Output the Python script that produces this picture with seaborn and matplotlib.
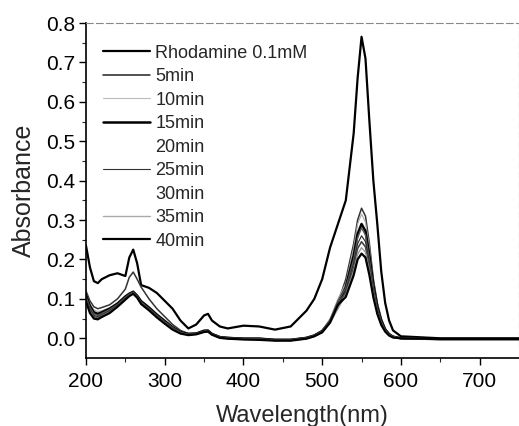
import numpy as np
import pandas as pd
import matplotlib
matplotlib.use("Agg")
import matplotlib.pyplot as plt
import seaborn as sns
from matplotlib.lines import Line2D

wavelength = [200, 205, 210, 215, 220, 230, 240, 250, 255, 260, 265, 270, 280, 290, 300,
              310, 320, 330, 340, 350, 355, 360, 370, 380, 400, 420, 440, 460, 480, 490, 500,
              510, 520, 530, 540, 545, 550, 555, 560, 565, 570, 575, 580, 585, 590, 600,
              650, 700, 750]

rhodamine = [0.235, 0.18, 0.145, 0.14, 0.15, 0.16, 0.165, 0.158, 0.205, 0.225, 0.19, 0.135, 0.128, 0.115, 0.095,
             0.075, 0.045, 0.025, 0.035, 0.058, 0.062, 0.045, 0.03, 0.025, 0.032, 0.03, 0.022, 0.03, 0.07, 0.1, 0.15,
             0.23, 0.29, 0.35, 0.52, 0.66, 0.765, 0.71, 0.55, 0.40, 0.29, 0.17, 0.09, 0.045, 0.02, 0.005,
             0.0, 0.0, 0.0]
min5 = [0.12, 0.095, 0.08, 0.075, 0.078, 0.085, 0.10, 0.125, 0.155, 0.168, 0.15, 0.13, 0.10, 0.075, 0.055,
        0.035, 0.02, 0.012, 0.013, 0.02, 0.021, 0.012, 0.004, 0.002, 0.0, 0.0, -0.003, -0.003, 0.002, 0.008, 0.02,
        0.045, 0.09, 0.15, 0.24, 0.30, 0.33, 0.31, 0.24, 0.15, 0.09, 0.05, 0.025, 0.012, 0.005, 0.0,
        -0.002, -0.002, -0.002]
min10 = [0.115, 0.088, 0.072, 0.068, 0.07, 0.078, 0.09, 0.108, 0.115, 0.12, 0.11, 0.096, 0.08, 0.062, 0.045,
         0.03, 0.018, 0.012, 0.013, 0.02, 0.02, 0.012, 0.004, 0.002, 0.0, 0.0, -0.003, -0.003, 0.002, 0.008, 0.02,
         0.05, 0.10, 0.14, 0.23, 0.29, 0.315, 0.295, 0.23, 0.145, 0.085, 0.048, 0.024, 0.011, 0.004, 0.0,
         -0.002, -0.002, -0.002]
min15 = [0.11, 0.082, 0.066, 0.062, 0.066, 0.075, 0.088, 0.106, 0.113, 0.118, 0.108, 0.094, 0.078, 0.06, 0.044,
         0.028, 0.016, 0.011, 0.012, 0.019, 0.019, 0.011, 0.003, 0.001, -0.001, -0.001, -0.004, -0.004, 0.001, 0.007, 0.018,
         0.043, 0.085, 0.13, 0.21, 0.265, 0.29, 0.272, 0.21, 0.135, 0.08, 0.045, 0.022, 0.01, 0.004, 0.0,
         -0.002, -0.002, -0.002]
min20 = [0.105, 0.078, 0.062, 0.058, 0.063, 0.073, 0.086, 0.104, 0.112, 0.117, 0.107, 0.092, 0.076, 0.058, 0.042,
         0.027, 0.015, 0.01, 0.012, 0.018, 0.019, 0.011, 0.003, 0.001, -0.001, -0.002, -0.004, -0.004, 0.001, 0.007, 0.018,
         0.046, 0.095, 0.128, 0.20, 0.255, 0.28, 0.262, 0.2, 0.13, 0.077, 0.043, 0.021, 0.01, 0.004, 0.0,
         -0.002, -0.002, -0.002]
min25 = [0.1, 0.074, 0.058, 0.055, 0.06, 0.07, 0.084, 0.102, 0.11, 0.116, 0.106, 0.09, 0.074, 0.056, 0.04,
         0.025, 0.014, 0.01, 0.011, 0.018, 0.018, 0.01, 0.002, 0.0, -0.002, -0.002, -0.005, -0.005, 0.0, 0.006, 0.016,
         0.04, 0.08, 0.12, 0.19, 0.24, 0.26, 0.245, 0.19, 0.122, 0.072, 0.04, 0.02, 0.009, 0.003, 0.0,
         -0.002, -0.002, -0.002]
min30 = [0.098, 0.07, 0.055, 0.052, 0.058, 0.068, 0.082, 0.1, 0.109, 0.115, 0.105, 0.089, 0.073, 0.055, 0.039,
         0.024, 0.013, 0.009, 0.011, 0.017, 0.018, 0.01, 0.002, 0.0, -0.002, -0.003, -0.005, -0.005, 0.0, 0.006, 0.016,
         0.043, 0.09, 0.115, 0.18, 0.228, 0.245, 0.232, 0.18, 0.116, 0.068, 0.038, 0.019, 0.008, 0.003, 0.0,
         -0.002, -0.002, -0.002]
min35 = [0.096, 0.067, 0.052, 0.05, 0.056, 0.066, 0.081, 0.099, 0.108, 0.114, 0.104, 0.088, 0.072, 0.054, 0.038,
         0.023, 0.013, 0.009, 0.01, 0.017, 0.017, 0.009, 0.001, -0.001, -0.003, -0.003, -0.006, -0.006, -0.001, 0.005, 0.015,
         0.038, 0.075, 0.11, 0.17, 0.213, 0.23, 0.218, 0.17, 0.11, 0.065, 0.036, 0.018, 0.008, 0.003, 0.0,
         -0.002, -0.002, -0.002]
min40 = [0.094, 0.064, 0.05, 0.048, 0.054, 0.064, 0.08, 0.098, 0.107, 0.113, 0.103, 0.087, 0.071, 0.053, 0.037,
         0.022, 0.012, 0.008, 0.01, 0.016, 0.017, 0.009, 0.001, -0.001, -0.003, -0.004, -0.006, -0.006, -0.001, 0.005, 0.015,
         0.04, 0.085, 0.105, 0.16, 0.2, 0.215, 0.205, 0.16, 0.104, 0.062, 0.034, 0.017, 0.007, 0.002, 0.0,
         -0.002, -0.002, -0.002]

labels = ["Rhodamine 0.1mM", "5min", "10min", "15min", "20min", "25min", "30min", "35min", "40min"]
series = [rhodamine, min5, min10, min15, min20, min25, min30, min35, min40]

colors = ["black", "#333333", "#aaaaaa", "black", "#555555", "#222222", "#444444", "#999999", "black"]
widths = [1.6, 1.1, 0.8, 1.8, 1.0, 0.8, 1.2, 1.0, 1.6]
legend_colors = ["black", "#222222", "#bbbbbb", "black", "white", "#333333", "white", "#aaaaaa", "black"]

frames = []
for lab, vals in zip(labels, series):
    frames.append(pd.DataFrame({"Wavelength": wavelength, "Absorbance": vals, "Series": lab}))
df = pd.concat(frames, ignore_index=True)

sns.set_style("ticks")
plt.rcParams["font.family"] = ["Liberation Sans", "DejaVu Sans"]

fig = plt.figure(figsize=(5.19, 4.26), dpi=100)
ax = fig.add_axes([86 / 519, 1 - 358 / 426, 1 - 86 / 519, (358 - 23) / 426])

for lab, c, w in zip(labels, colors, widths):
    sub = df[df["Series"] == lab]
    sns.lineplot(data=sub, x="Wavelength", y="Absorbance", ax=ax, color=c, linewidth=w,
                 legend=False, sort=False)

handles = [Line2D([], [], color=lc, lw=lw) for lc, lw in zip(legend_colors, widths)]
ax.legend(handles, labels, loc="upper left", bbox_to_anchor=(0.039, 0.935), frameon=False,
          fontsize=13, handlelength=2.6, handletextpad=0.3, labelspacing=0.36, borderaxespad=0.0,
          borderpad=0.0)

ax.set_xlim(200, 750)
ax.set_ylim(-0.05, 0.8)
ax.set_xticks([200, 300, 400, 500, 600, 700])
ax.set_yticks([0.0, 0.1, 0.2, 0.3, 0.4, 0.5, 0.6, 0.7, 0.8])
ax.set_yticklabels(["0.0", "0.1", "0.2", "0.3", "0.4", "0.5", "0.6", "0.7", "0.8"])
ax.set_xticks(np.arange(250, 750, 100), minor=True)
ax.set_yticks(np.arange(0.05, 0.8, 0.1), minor=True)
ax.tick_params(axis="both", which="major", direction="out", length=5, width=1, labelsize=15,
               colors="black", pad=3)
ax.tick_params(axis="x", which="major", pad=5)
ax.tick_params(axis="both", which="minor", direction="out", length=3, width=0.8)
ax.tick_params(top=False, right=False)

for s in ["left", "bottom"]:
    ax.spines[s].set_linewidth(1.2)
    ax.spines[s].set_color("black")
for s in ["top", "right"]:
    ax.spines[s].set_linewidth(0.8)
    ax.spines[s].set_color("#888888")
    ax.spines[s].set_linestyle((0, (6, 3)))

ax.set_xlabel("Wavelength(nm)", fontsize=17, labelpad=10)
ax.set_ylabel("Absorbance", fontsize=18, labelpad=7)

fig.savefig("out.png", dpi=100)
